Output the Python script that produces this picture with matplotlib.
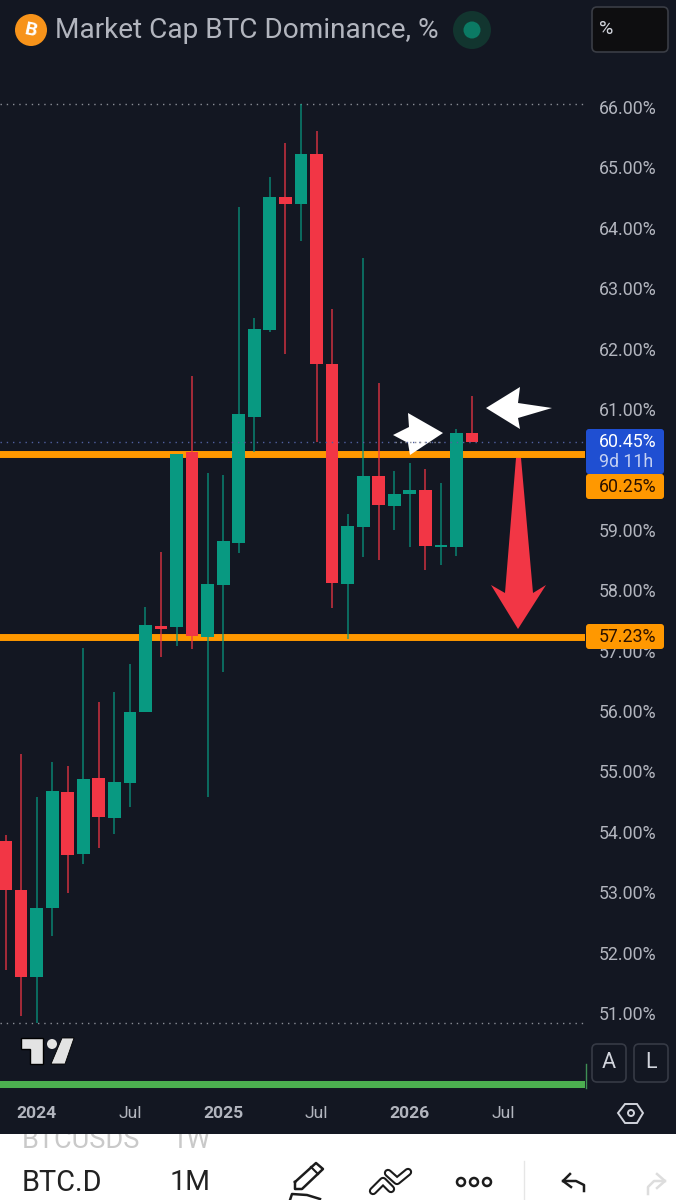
import matplotlib
matplotlib.use("Agg")
import matplotlib.pyplot as plt
from matplotlib.patches import Rectangle, Circle, Polygon, FancyBboxPatch

plt.rcParams['font.family'] = ['Roboto', 'DejaVu Sans']

# ---- data ----
opens  = [53.85,53.04,51.60,52.74,54.66,53.63,54.89,54.23,54.81,55.98,57.41,57.39,60.29,57.23,58.09,58.78,
          60.87,62.31,64.51,64.39,65.22,61.75,58.10,59.05,59.89,59.39,59.59,59.66,58.72,58.72,60.60]
highs  = [53.95,55.29,54.58,55.16,55.09,57.04,56.15,56.31,56.78,57.72,58.63,60.25,61.55,59.94,59.91,64.34,
          62.51,64.84,65.40,66.05,65.60,62.66,59.26,63.50,61.43,59.97,60.11,60.01,59.77,60.67,61.22]
lows   = [51.71,50.95,50.83,52.27,52.99,53.47,53.73,53.96,54.41,55.98,56.89,57.08,57.03,54.58,56.65,58.62,
          60.29,62.27,61.91,63.78,60.45,57.71,57.19,58.55,58.50,59.00,58.72,58.33,58.42,58.57,60.45]
closes = [53.04,51.60,52.74,54.68,53.62,54.87,54.25,54.82,55.98,57.42,57.36,60.25,57.24,58.10,58.81,60.92,
          62.32,64.51,64.39,65.22,61.75,58.12,59.06,59.89,59.41,59.59,59.66,58.73,58.75,60.60,60.45]
price_ticks = [51,52,53,54,55,56,57,58,59,61,62,63,64,65,66]
time_positions = [2,8,14,20,26,32]
time_labels = ['2024','Jul','2025','Jul','2026','Jul']
chart_high = 66.05
chart_low = 50.83
last_price = 60.45
level_upper = 60.25
level_lower = 57.23

BG = '#131722'; UP = '#089981'; DOWN = '#f23645'; ORANGE = '#ff9800'; GREY = '#b2b5be'

W, H = 676, 1200
fig = plt.figure(figsize=(W/100, H/100), dpi=100, facecolor=BG)

# price pane: pixel box 0..585, 62..1075
L, R, T, B = 0, 585, 62, 1075
ax = fig.add_axes([L/W, 1-B/H, (R-L)/W, (B-T)/H], facecolor=BG)
PX = 60.4
ax.set_ylim(66-(B-107)/PX, 66+(107-T)/PX)
ax.set_xlim((L-5.5)/15.55, (R-5.5)/15.55)
for s in ax.spines.values():
    s.set_visible(False)
ax.yaxis.tick_right()
ax.set_yticks(price_ticks)
ax.set_yticklabels([f'{v:.2f}%' for v in price_ticks], fontsize=12.8, color=GREY)
ax.tick_params(axis='y', length=0, pad=10)
ax.set_xticks(time_positions)
ax.set_xticklabels(time_labels, fontsize=12.6, color=GREY)
for lab, txt in zip(ax.get_xticklabels(), time_labels):
    if txt != 'Jul':
        lab.set_fontweight('bold')
ax.tick_params(axis='x', length=0, pad=22)

ax.axhline(chart_high, color='#8a8d96', lw=1, ls=(0, (1, 3.5)), zorder=1)
ax.axhline(chart_low, color='#8a8d96', lw=1, ls=(0, (1, 3.5)), zorder=1)
ax.axhline(level_upper, color=ORANGE, lw=5, zorder=2)
ax.axhline(level_lower, color=ORANGE, lw=5, zorder=2)

for i, (o, h, l, c) in enumerate(zip(opens, highs, lows, closes)):
    col = UP if c >= o else DOWN
    ax.vlines(i, l, h, color=col, lw=1.15, alpha=0.8, zorder=3)
    ax.bar(i, abs(c-o), bottom=min(o, c), width=0.82, color=col, lw=0, zorder=4)

# overlay pane in pixels
d = fig.add_axes([0, 0, 1, 1], facecolor='none', zorder=5)
d.set_xlim(0, W); d.set_ylim(H, 0); d.axis('off')

def box(x0, y0, x1, y1, fc, ec='none', r=3, lw=1.2, z=6):
    d.add_patch(FancyBboxPatch((x0+r, y0+r), x1-x0-2*r, y1-y0-2*r, boxstyle=f'round,pad={r},rounding_size={r}',
                               fc=fc, ec=ec, lw=lw, zorder=z, mutation_aspect=1))

# arrows
d.add_patch(Polygon([(486,408),(520,387),(518,403),(552,408),(518,418),(520,429)], fc='white', ec='none', zorder=3))
d.add_patch(Polygon([(443,433),(408,413),(409,427),(393,435),(408,443),(410,455)], fc='white', ec='none', zorder=3))
d.add_patch(Polygon([(516,458),(521,458),(533,593),(546,585),(518,629),(491,585),(505,593)], fc=DOWN, ec='none', zorder=3))

# last price dotted line, above the arrows
lp_y = H - ax.transData.transform((0, last_price))[1]
d.plot([0, 585], [lp_y, lp_y], color='#5060a0', lw=1, ls=(0, (1, 3.5)), zorder=4)
d.plot([395, 440], [lp_y, lp_y], color='#8a8d96', lw=1, ls=(0, (1, 2.5)), zorder=4)

# price tags
box(586, 429, 664, 474, '#1f4fd2')
box(586, 474, 664, 499, ORANGE)
box(586, 624, 664, 649, ORANGE)
d.text(656, 442, '60.45%', color='white', fontsize=12.8, ha='right', va='center', zorder=7)
d.text(653, 462, '9d 11h', color='#c4d0f2', fontsize=12.8, ha='right', va='center', zorder=7)
d.text(656, 487, '60.25%', color='#2a1200', fontsize=12.8, ha='right', va='center', zorder=7)
d.text(656, 637, '57.23%', color='#2a1200', fontsize=12.8, ha='right', va='center', zorder=7)

# header
d.add_patch(Circle((31, 30), 16, fc='#f7931a', ec='none', zorder=6))
d.text(31, 30, 'B', color='white', fontsize=14, fontweight='bold', ha='center', va='center', rotation=-12, zorder=7)
d.text(55, 31, 'Market Cap BTC Dominance, %', color=GREY, fontsize=20.2, ha='left', va='center', zorder=7)
d.add_patch(Circle((472, 30), 19, fc='#12352f', ec='none', zorder=6))
d.add_patch(Circle((472, 30), 8.5, fc='#0b7a64', ec='none', zorder=7))
box(592, 7, 668, 52, '#0e0e10', ec='#3a3d45', r=5)
d.text(599, 29, '%', color='#d1d4dc', fontsize=14, ha='left', va='center', zorder=7)

# A / L buttons
box(592, 1044, 626, 1082, BG, ec='#363a45', r=5)
box(634, 1044, 668, 1082, BG, ec='#363a45', r=5)
d.text(609, 1063, 'A', color='#d1d4dc', fontsize=15.5, ha='center', va='center', zorder=7)
d.text(651, 1063, 'L', color='#d1d4dc', fontsize=15.5, ha='center', va='center', zorder=7)

# logo
LOGO = '#e3e3e3'
d.add_patch(Polygon([(21,1038),(43,1038),(43,1064),(30,1064),(30,1049),(21,1049)], fc=LOGO, ec='#000000', lw=1, zorder=6))
d.add_patch(Circle((52, 1044), 5, fc=LOGO, ec='none', zorder=6))
d.add_patch(Polygon([(62,1038),(74,1038),(65,1064),(51,1064)], fc=LOGO, ec='#000000', lw=0.6, zorder=6))

# green strip
d.add_patch(Rectangle((0, 1081), 585, 7, fc='#4caf50', ec='none', zorder=6))
d.plot([586, 586], [1064, 1088], color='#3f8f55', lw=1, zorder=6)

# settings hexagon
d.add_patch(Polygon([(618,1113),(625,1104),(637,1104),(643,1113),(637,1123),(625,1123)], fc='none', ec='#d1d4dc', lw=1.4, zorder=7))
d.add_patch(Circle((631, 1113), 3, fc='none', ec='#d1d4dc', lw=1.4, zorder=7))

# bottom toolbar
d.add_patch(Rectangle((0, 1134), W, 66, fc='white', ec='none', zorder=6))
clip = Rectangle((0, 1134), W, 66, transform=d.transData)
for x, s in ((22, 'BTCUSDS'), (172, '1W')):
    t = d.text(x, 1141, s, color='#c9c9c9', fontsize=19.5, ha='left', va='center', zorder=7)
    t.set_clip_path(clip); t.set_clip_on(True)
d.text(22, 1183, 'BTC.D', color='#222222', fontsize=20.8, ha='left', va='center', zorder=7)
d.text(170, 1183, '1M', color='#222222', fontsize=20.5, ha='left', va='center', zorder=7)
INK = '#1c1c1c'
d.plot([295,295,302,323,316,295], [1182,1189,1189,1169,1163,1182], color=INK, lw=1.8, zorder=7, solid_joinstyle='round')
d.plot([311,318], [1167,1174], color=INK, lw=1.5, zorder=7)
d.plot([320,307,292,290], [1199,1195,1194,1200], color=INK, lw=1.8, zorder=7)
for xs, ys in (([373,383,391], [1191,1181,1189]), ([388,397,408], [1173,1181,1172])):
    d.plot(xs, ys, color=INK, lw=6, zorder=7, solid_capstyle='round', solid_joinstyle='round')
    d.plot(xs, ys, color='white', lw=3, zorder=7.1, solid_capstyle='round', solid_joinstyle='round')
for x in (461, 474, 487):
    d.add_patch(Circle((x, 1182), 4, fc='white', ec=INK, lw=1.8, zorder=7))
d.plot([524, 524], [1161, 1200], color='#e6e6e6', lw=1, zorder=7)
d.plot([570,563,571], [1174,1181,1187], color=INK, lw=1.8, zorder=7)
d.plot([563,576,584,584], [1181,1181,1185,1191], color=INK, lw=1.8, zorder=7)
d.plot([657,665,657], [1174,1181,1188], color='#dddddd', lw=1.8, zorder=7)
d.plot([665,654,648,648], [1181,1181,1187,1194], color='#dddddd', lw=1.8, zorder=7)

fig.savefig('out.png', dpi=100, facecolor=BG)
